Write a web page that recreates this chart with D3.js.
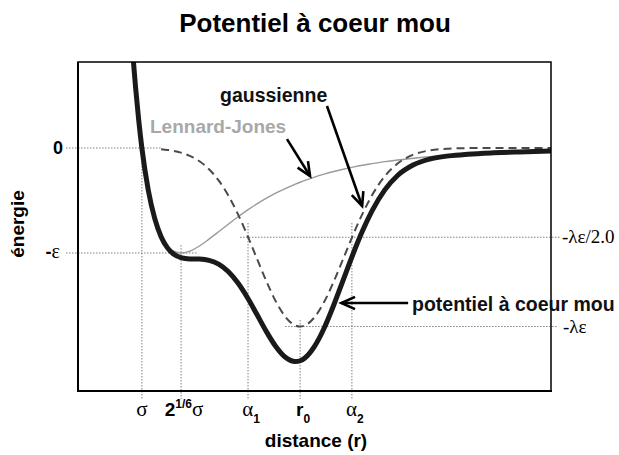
<!DOCTYPE html>
<html>
<head>
<meta charset="utf-8">
<script src="https://cdn.jsdelivr.net/npm/d3@7"></script>
<style>
  body { margin: 0; background: #fff; }
  text { font-family: "Liberation Sans", Arial, Helvetica, sans-serif; }
  .serif { font-family: "Liberation Serif", "Times New Roman", serif; }
</style>
</head>
<body>
<script>
// distance r in units of sigma, energies in units of epsilon
var rValues = [0.97, 0.974, 0.98, 0.99, 1.00, 1.02, 1.04, 1.06, 1.08, 1.10, 1.122, 1.15, 1.18, 1.21, 1.24,
    1.27, 1.30, 1.33, 1.36, 1.39, 1.42, 1.45, 1.48, 1.495, 1.51, 1.54, 1.57, 1.60, 1.63, 1.66,
    1.69, 1.72, 1.76, 1.80, 1.85, 1.90, 1.96, 2.02, 2.10, 2.18, 2.28];

// Lennard-Jones curve (thin grey)
var ljValues = [0.963, 0.802, 0.582, 0.264, 0.0, -0.398, -0.663, -0.832, -0.932, -0.983, -1.0, -0.982, -0.933, -0.868, -0.798,
    -0.726, -0.657, -0.592, -0.532, -0.478, -0.428, -0.384, -0.344, -0.326, -0.309, -0.277, -0.249, -0.224, -0.202, -0.182,
    -0.164, -0.149, -0.130, -0.114, -0.097, -0.083, -0.069, -0.058, -0.046, -0.037, -0.028];

// gaussian well (dashed), not drawn at small r
var gaussValues = [null, null, null, null, null, null, null, -0.012, -0.019, -0.028, -0.044, -0.075, -0.126, -0.202, -0.308,
    -0.450, -0.627, -0.832, -1.054, -1.273, -1.467, -1.612, -1.690, -1.700, -1.690, -1.612, -1.467, -1.273, -1.054, -0.832,
    -0.627, -0.450, -0.269, -0.148, -0.062, -0.023, -0.006, -0.001, 0, 0, 0];

// soft core potential (thick black)
var softValues = [0.962, 0.802, 0.582, 0.264, -0.003, -0.403, -0.670, -0.844, -0.951, -1.012, -1.044, -1.056, -1.058, -1.070, -1.106,
    -1.176, -1.284, -1.424, -1.586, -1.751, -1.895, -1.996, -2.034, -2.026, -1.999, -1.889, -1.716, -1.497, -1.255, -1.014,
    -0.791, -0.599, -0.399, -0.262, -0.160, -0.106, -0.075, -0.059, -0.046, -0.037, -0.028];

// special distances on the x axis: sigma, 2^(1/6) sigma, alpha1, r0, alpha2
var xTicks = [1.0, 1.1225, 1.332, 1.495, 1.657];
var xTickLabels = [
    [["σ", "greek"]],
    [["2", "main"], ["1/6", "sup"], ["σ", "greek"]],
    [["α", "greek"], ["1", "sub"]],
    [["r", "main"], ["0", "sub"]],
    [["α", "greek"], ["2", "sub"]]
];

// energy levels: 0, -eps, -lambda eps / 2, -lambda eps
var yLevels = [0, -1, -0.85, -1.7];
var yLevelLabels = ["0", "-ε", "-λε/2.0", "-λε"];

var w = 619, h = 455;

var svg = d3.select("body")
    .append("svg")
    .attr("width", w)
    .attr("height", h);

var x = d3.scaleLinear()
    .domain([0.8, 2.28])
    .range([78, 551]);

var y = d3.scaleLinear()
    .domain([-2.314, 0.819])
    .range([391, 62]);

svg.append("defs").append("clipPath")
    .attr("id", "plotclip")
    .append("rect")
    .attr("x", 78).attr("y", 62)
    .attr("width", 473).attr("height", 329);

var dotted = {stroke: "#808080", width: 1, dash: "1.5,1.5"};

//horizontal reference lines [level index, from px/r, to]
var hRefs = [
    {lev: 0, x1: 66, x2: x(1.06)},
    {lev: 1, x1: 66, x2: x(1.172)},
    {lev: 2, x1: x(1.307), x2: 560},
    {lev: 3, x1: x(1.448), x2: 557}
];
svg.selectAll(".href")
    .data(hRefs)
    .enter()
    .append("line")
    .attr("class", "href")
    .attr("x1", function(d){ return d.x1; })
    .attr("x2", function(d){ return d.x2; })
    .attr("y1", function(d){ return y(yLevels[d.lev]); })
    .attr("y2", function(d){ return y(yLevels[d.lev]); })
    .style("stroke", dotted.stroke)
    .style("stroke-width", dotted.width)
    .style("stroke-dasharray", dotted.dash);

//vertical reference lines, top end in energy units
var vTops = [0, -0.924, -0.714, -1.638, -0.714];
svg.selectAll(".vref")
    .data(xTicks)
    .enter()
    .append("line")
    .attr("class", "vref")
    .attr("x1", function(d){ return x(d); })
    .attr("x2", function(d){ return x(d); })
    .attr("y1", function(d, i){ return y(vTops[i]); })
    .attr("y2", 399)
    .style("stroke", dotted.stroke)
    .style("stroke-width", dotted.width)
    .style("stroke-dasharray", dotted.dash);

var pts = rValues.map(function(r, i){
    return {r: r, lj: ljValues[i], g: gaussValues[i], s: softValues[i]};
});

var plot = svg.append("g").attr("clip-path", "url(#plotclip)");

function lineFor(key){
    return d3.line()
        .defined(function(d){ return d[key] !== null; })
        .x(function(d){ return x(d.r); })
        .y(function(d){ return y(d[key]); })
        .curve(d3.curveMonotoneX);
}

//Lennard-Jones
plot.append("path")
    .datum(pts)
    .attr("d", lineFor("lj"))
    .style("fill", "none")
    .style("stroke", "#9a9a9a")
    .style("stroke-width", 1.4);

//gaussienne
plot.append("path")
    .datum(pts)
    .attr("d", lineFor("g"))
    .style("fill", "none")
    .style("stroke", "#4a4a4a")
    .style("stroke-width", 2)
    .style("stroke-dasharray", "8,5");

//soft core
plot.append("path")
    .datum(pts)
    .attr("d", lineFor("s"))
    .style("fill", "none")
    .style("stroke", "#1a1a1a")
    .style("stroke-width", 5)
    .style("stroke-linejoin", "round");

//frame
svg.append("rect")
    .attr("x", 78).attr("y", 62)
    .attr("width", 473).attr("height", 329)
    .style("fill", "none")
    .style("stroke", "#000")
    .style("stroke-width", 1.5);
svg.append("line")
    .attr("x1", 78).attr("x2", 78).attr("y1", 62).attr("y2", 392)
    .style("stroke", "#000").style("stroke-width", 2);
svg.append("line")
    .attr("x1", 77).attr("x2", 552).attr("y1", 391).attr("y2", 391)
    .style("stroke", "#000").style("stroke-width", 2.2);

//x tick labels
var tickText = svg.selectAll(".xlab")
    .data(xTicks)
    .enter()
    .append("text")
    .attr("class", "xlab")
    .attr("text-anchor", "middle")
    .attr("x", function(d, i){ return x(d) + (i === 0 ? 0 : 3); })
    .attr("y", 416);

tickText.each(function(d, i){
    var t = d3.select(this);
    var shift = 0;
    xTickLabels[i].forEach(function(part){
        var sp = t.append("tspan").text(part[0]);
        var dy = 0;
        if (part[1] === "greek") {
            sp.attr("class", "serif").style("font-size", "21px");
            dy = -shift;
        } else if (part[1] === "main") {
            sp.style("font-size", "19px").style("font-weight", "bold");
            dy = -shift;
        } else if (part[1] === "sup") {
            sp.style("font-size", "12px").style("font-weight", "bold");
            dy = -8 - shift;
        } else {
            sp.style("font-size", "12px").style("font-weight", "bold");
            dy = 7 - shift;
        }
        shift += dy;
        if (dy !== 0) sp.attr("dy", dy);
    });
});

//axis titles
svg.append("text")
    .attr("x", 316)
    .attr("y", 447)
    .attr("text-anchor", "middle")
    .style("font-size", "19px")
    .style("font-weight", "bold")
    .text("distance (r)");

svg.append("text")
    .attr("transform", "translate(24,224) rotate(-90)")
    .attr("text-anchor", "middle")
    .style("font-size", "19px")
    .style("font-weight", "bold")
    .text("énergie");

svg.append("text")
    .attr("x", 315)
    .attr("y", 32)
    .attr("text-anchor", "middle")
    .style("font-size", "26px")
    .style("font-weight", "bold")
    .text("Potentiel à coeur mou");

//level labels on the left
svg.append("text")
    .attr("x", 63).attr("y", y(yLevels[0]) + 6)
    .attr("text-anchor", "end")
    .style("font-size", "18px")
    .style("font-weight", "bold")
    .text(yLevelLabels[0]);

var epsLab = svg.append("text")
    .attr("x", 60).attr("y", y(yLevels[1]) + 5)
    .attr("text-anchor", "end");
epsLab.append("tspan").style("font-size", "18px").style("font-weight", "bold").text(yLevelLabels[1].charAt(0));
epsLab.append("tspan").attr("class", "serif").style("font-size", "20px").text(yLevelLabels[1].slice(1));

//level labels on the right
svg.append("text")
    .attr("class", "serif")
    .attr("x", 562).attr("y", y(yLevels[2]) + 6)
    .style("font-size", "19px")
    .text(yLevelLabels[2]);
svg.append("text")
    .attr("class", "serif")
    .attr("x", 563).attr("y", y(yLevels[3]) + 6)
    .style("font-size", "19px")
    .text(yLevelLabels[3]);

//curve names
svg.append("text")
    .attr("x", 220).attr("y", 102)
    .style("font-size", "19.5px")
    .style("font-weight", "bold")
    .style("fill", "#111")
    .text("gaussienne");

svg.append("text")
    .attr("x", 150).attr("y", 133)
    .style("font-size", "19px")
    .style("font-weight", "bold")
    .style("fill", "#a8a8a8")
    .text("Lennard-Jones");

svg.append("text")
    .attr("x", 412).attr("y", 311)
    .style("font-size", "19.5px")
    .style("font-weight", "bold")
    .style("fill", "#111")
    .text("potentiel à coeur mou");

//arrows, from label to curve, in data units
var arrows = [
    {r1: 1.579, e1: 0.40, r2: 1.689, e2: -0.552},
    {r1: 1.454, e1: 0.085, r2: 1.526, e2: -0.267},
    {r1: 1.833, e1: -1.476, r2: 1.624, e2: -1.476}
];

arrows.forEach(function(a){
    var x1 = x(a.r1), y1 = y(a.e1), x2 = x(a.r2), y2 = y(a.e2);
    var ang = Math.atan2(y2 - y1, x2 - x1);
    var len = 15, spread = 0.42;
    svg.append("line")
        .attr("x1", x1).attr("y1", y1).attr("x2", x2).attr("y2", y2)
        .style("stroke", "#000").style("stroke-width", 2.6);
    var p = d3.path();
    p.moveTo(x2 - len * Math.cos(ang - spread), y2 - len * Math.sin(ang - spread));
    p.lineTo(x2, y2);
    p.lineTo(x2 - len * Math.cos(ang + spread), y2 - len * Math.sin(ang + spread));
    svg.append("path")
        .attr("d", p.toString())
        .style("fill", "none")
        .style("stroke", "#000")
        .style("stroke-width", 2.6)
        .style("stroke-linejoin", "miter");
});
</script>
</body>
</html>
